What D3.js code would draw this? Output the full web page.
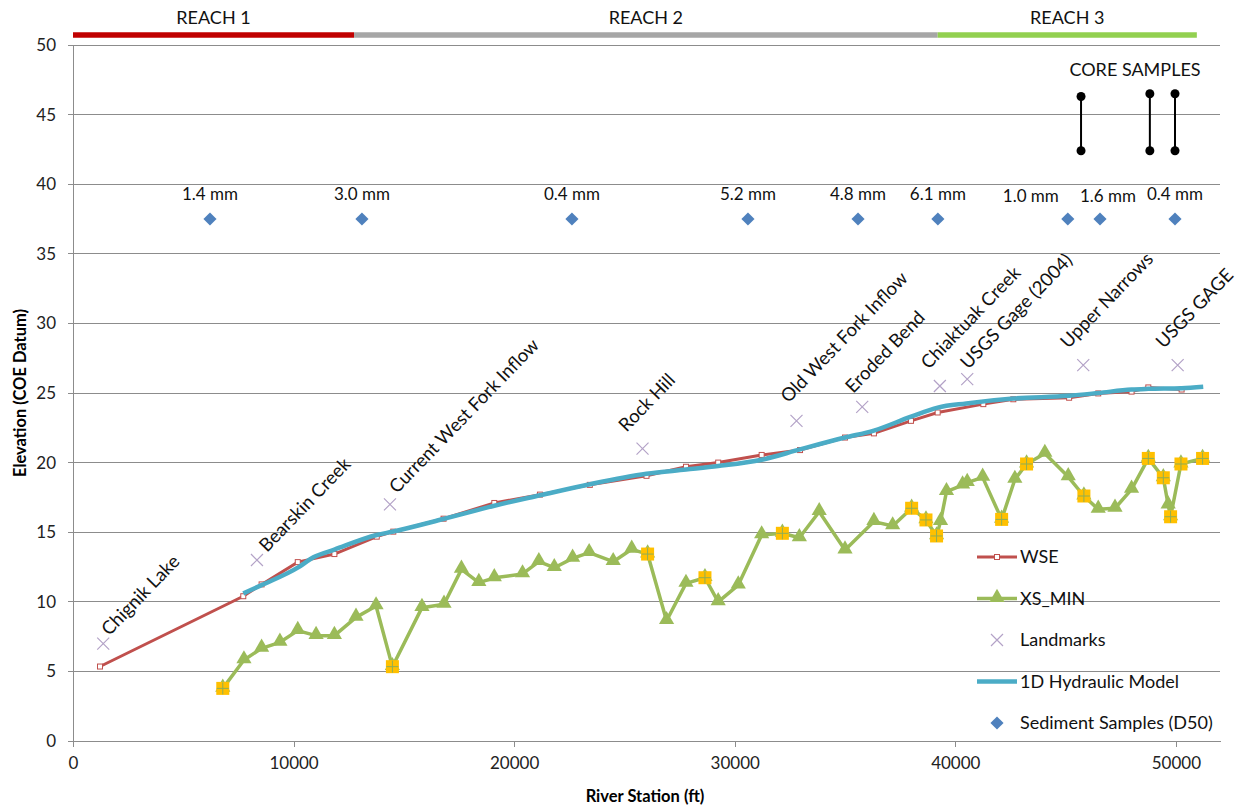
<!DOCTYPE html>
<html>
<head>
<meta charset="utf-8">
<script src="https://cdn.jsdelivr.net/npm/d3@7"></script>
<style>
  html, body { margin: 0; padding: 0; background: #fff; }
  svg { display: block; font-family: Lato, "Open Sans", sans-serif; }
</style>
</head>
<body>
<svg id="chart" width="1243" height="808"></svg>
<script>
// Axis ticks
const xTicks = [0, 10000, 20000, 30000, 40000, 50000];
const yTicks = [0, 5, 10, 15, 20, 25, 30, 35, 40, 45, 50];

// Water surface elevation (WSE)
const wseStation = [1224, 7720, 8550, 10190, 11850, 13770, 14520, 16800, 19100, 21170, 23430, 26000, 27790, 29250, 31220, 32960, 35000, 36310, 37990, 39200, 41270, 42630, 45160, 46480, 47990, 48750, 50260];
const wseElev    = [5.35, 10.4, 11.25, 12.85, 13.43, 14.68, 15.04, 15.97, 17.1, 17.7, 18.4, 19.05, 19.7, 20.0, 20.55, 20.9, 21.8, 22.1, 23.0, 23.6, 24.2, 24.55, 24.66, 24.97, 25.1, 25.4, 25.25];

// 1D hydraulic model water surface
const modelStation = [7720, 8550, 10190, 10900, 11850, 13770, 14520, 16800, 19100, 21170, 23430, 26000, 27790, 29250, 31220, 32960, 35000, 36310, 37990, 39200, 40500, 42630, 45160, 46480, 47990, 48750, 50260, 51240];
const modelElev    = [10.6, 11.2, 12.45, 13.2, 13.75, 14.8, 15.05, 15.95, 16.9, 17.65, 18.45, 19.2, 19.5, 19.75, 20.2, 20.95, 21.8, 22.3, 23.3, 23.95, 24.25, 24.6, 24.8, 25.0, 25.25, 25.3, 25.35, 25.45];

// Cross-section minimum bed elevation (XS_MIN)
const xsStation = [6790, 7750, 8550, 9380, 10190, 11020, 11850, 12830, 13740, 14480, 15820, 16820, 17610, 18400, 19100, 20380, 21120, 21820, 22650, 23400, 24490, 25330, 26050, 26910, 27790, 28650, 29250, 30160, 31220, 32160, 32930, 33830, 35000, 36310, 37160, 38020, 38670, 39150, 39330, 39600, 40330, 40540, 41240, 42100, 42700, 43230, 44060, 45120, 45830, 46480, 47240, 47990, 48750, 49430, 49650, 49760, 50230, 51210];
const xsElev    = [3.78, 5.82, 6.66, 7.09, 7.93, 7.57, 7.57, 8.88, 9.7, 5.34, 9.58, 9.82, 12.33, 11.38, 11.72, 12.0, 12.88, 12.45, 13.12, 13.53, 12.88, 13.77, 13.43, 8.64, 11.32, 11.73, 10.0, 11.2, 14.8, 14.92, 14.6, 16.47, 13.72, 15.76, 15.45, 16.72, 15.88, 14.73, 15.76, 17.91, 18.39, 18.56, 18.94, 15.92, 18.79, 19.9, 20.66, 18.98, 17.6, 16.64, 16.72, 18.08, 20.3, 18.91, 16.95, 16.11, 19.9, 20.3];

// Highlighted cross sections
const markStation = [6790, 14480, 26050, 28650, 32160, 38020, 38670, 39150, 42100, 43230, 45830, 48750, 49430, 49760, 50230, 51210];
const markElev    = [3.78, 5.34, 13.43, 11.73, 14.92, 16.72, 15.88, 14.73, 15.92, 19.9, 17.6, 20.3, 18.91, 16.11, 19.9, 20.3];

// Landmarks
const landmarkNames   = ["Chignik Lake", "Bearskin Creek", "Current West Fork Inflow", "Rock Hill", "Old West Fork Inflow", "Eroded Bend", "Chiaktuak Creek", "USGS Gage (2004)", "Upper Narrows", "USGS GAGE"];
const landmarkStation = [1370, 8340, 14370, 25820, 32800, 35780, 39300, 40540, 45800, 50080];
const landmarkElev    = [7, 13, 17, 21, 23, 24, 25.5, 26, 27, 27];

// Sediment samples (D50)
const sampleLabels  = ["1.4 mm", "3.0 mm", "0.4 mm", "5.2 mm", "4.8 mm", "6.1 mm", "1.0 mm", "1.6 mm", "0.4 mm"];
const sampleStation = [6210, 13100, 22620, 30600, 35590, 39210, 45100, 46560, 49960];
const sampleElev    = [37.5, 37.5, 37.5, 37.5, 37.5, 37.5, 37.5, 37.5, 37.5];

// Core samples
const coreStation = [45700, 48820, 49960];
const coreTop     = [46.3, 46.5, 46.5];
const coreBottom  = [42.4, 42.4, 42.4];

// River reaches
const reachNames = ["REACH 1", "REACH 2", "REACH 3"];
const reachStart = [0, 12740, 39200];
const reachEnd   = [12740, 39200, 50950];

const legendNames = ["WSE", "XS_MIN", "Landmarks", "1D Hydraulic Model", "Sediment Samples (D50)"];

// label placement (pixel offsets from the mark)
const landmarkLabelDx = [6, 10, 7, -16, -8, -9, -11, 1, -15, -14];
const landmarkLabelDy = [-7, -7, -10, -16, -17, -13, -16, -9, -16, -16];
const sampleLabelDx   = [0, 0, 0, 0, 0, 0, -37, 8, 0];
const sampleLabelDy   = [-19, -19, -19, -19, -19, -19, -17, -17, -19];

const C = {
  wse: "#C0504D", xs: "#9BBB59", land: "#B3A2C7", model: "#4BACC6", sed: "#4F81BD",
  mark: "#FFC000", grid: "#8c8c8c",
  reach: ["#C00000", "#A6A6A6", "#92D050"]
};

const svg = d3.select("#chart");
const x = d3.scaleLinear().domain([0, 52000]).range([73, 1220]);
const y = d3.scaleLinear().domain([0, 50]).range([741, 45]);

// gridlines
svg.append("g").selectAll("line").data(yTicks).join("line")
  .attr("x1", x(0) - 5).attr("x2", x(52000))
  .attr("y1", d => y(d)).attr("y2", d => y(d))
  .attr("stroke", C.grid).attr("stroke-width", 1).attr("shape-rendering", "crispEdges");

// y axis line
svg.append("line").attr("x1", x(0)).attr("x2", x(0)).attr("y1", y(50)).attr("y2", y(0))
  .attr("stroke", C.grid).attr("shape-rendering", "crispEdges");

// x axis
const xAxis = svg.append("g").attr("transform", `translate(0,${y(0)})`)
  .call(d3.axisBottom(x).tickValues(xTicks).tickFormat(d3.format("d")).tickSize(6).tickSizeOuter(0));
xAxis.select(".domain").attr("stroke", C.grid).attr("shape-rendering", "crispEdges");
xAxis.selectAll(".tick line").attr("stroke", C.grid).attr("shape-rendering", "crispEdges");
xAxis.selectAll(".tick text").attr("font-family", "Lato").attr("font-size", 17).attr("fill", "#222").attr("dy", "1.1em");

// y axis labels
const yAxis = svg.append("g").attr("transform", `translate(${x(0)},0)`)
  .call(d3.axisLeft(y).tickValues(yTicks).tickSize(0).tickPadding(17));
yAxis.select(".domain").remove();
yAxis.selectAll(".tick text").attr("font-family", "Lato").attr("font-size", 17).attr("fill", "#222");

// axis titles
svg.append("text").attr("x", 645).attr("y", 802).attr("text-anchor", "middle")
  .attr("font-weight", "bold").attr("font-size", 16.5).text("River Station (ft)");
svg.append("text").attr("transform", `translate(26,${y(25)}) rotate(-90)`).attr("text-anchor", "middle")
  .attr("font-weight", "bold").attr("font-size", 16.5).text("Elevation (COE Datum)");

// reach bars, drawn just above the plot frame
const reachY = y(50) - 10;
reachNames.forEach((name, i) => {
  svg.append("line").attr("x1", x(reachStart[i])).attr("x2", x(reachEnd[i]))
    .attr("y1", reachY).attr("y2", reachY)
    .attr("stroke", C.reach[i]).attr("stroke-width", 5.5);
  svg.append("text").attr("x", x((reachStart[i] + reachEnd[i]) / 2)).attr("y", 24)
    .attr("text-anchor", "middle").attr("font-size", 18).attr("fill", "#111").text(name);
});

const line = d3.line().x(d => x(d[0])).y(d => y(d[1]));

// WSE
const wse = d3.zip(wseStation, wseElev);
svg.append("path").datum(wse).attr("d", line).attr("fill", "none")
  .attr("stroke", C.wse).attr("stroke-width", 3);
svg.append("g").selectAll("rect").data(wse).join("rect")
  .attr("x", d => x(d[0]) - 2.5).attr("y", d => y(d[1]) - 2.5).attr("width", 5).attr("height", 5)
  .attr("fill", "#fff").attr("stroke", C.wse).attr("stroke-width", 1);

// 1D hydraulic model
const model = d3.zip(modelStation, modelElev);
svg.append("path").datum(model).attr("d", d3.line().x(d => x(d[0])).y(d => y(d[1])).curve(d3.curveMonotoneX))
  .attr("fill", "none").attr("stroke", C.model).attr("stroke-width", 4.5).attr("stroke-linejoin", "round");

// XS_MIN
const xs = d3.zip(xsStation, xsElev);
svg.append("path").datum(xs).attr("d", line).attr("fill", "none")
  .attr("stroke", C.xs).attr("stroke-width", 3.5).attr("stroke-linejoin", "round");
const tri = d3.symbol().type(d3.symbolTriangle).size(100);
svg.append("g").selectAll("path").data(xs).join("path")
  .attr("d", tri).attr("transform", d => `translate(${x(d[0])},${y(d[1]) - 1})`)
  .attr("fill", C.xs);

// highlighted cross sections
const marks = d3.zip(markStation, markElev);
const mg = svg.append("g").selectAll("g").data(marks).join("g")
  .attr("transform", d => `translate(${x(d[0])},${y(d[1])})`);
mg.append("rect").attr("x", -6.5).attr("y", -6.5).attr("width", 13).attr("height", 13).attr("fill", C.mark);
mg.append("path").attr("d", "M-6,0H6M0,-6V6").attr("stroke", "#8fae55").attr("stroke-width", 1);

// landmarks
const lands = landmarkNames.map((n, i) => ({ s: landmarkStation[i], e: landmarkElev[i], n, i }));
const cross = "M-6,-6L6,6M-6,6L6,-6";
svg.append("g").selectAll("path").data(lands).join("path")
  .attr("d", cross).attr("transform", d => `translate(${x(d.s)},${y(d.e)})`)
  .attr("stroke", C.land).attr("stroke-width", 1.2).attr("fill", "none");
svg.append("g").selectAll("text").data(lands).join("text")
  .attr("transform", d => `translate(${x(d.s) + landmarkLabelDx[d.i]},${y(d.e) + landmarkLabelDy[d.i]}) rotate(-46)`)
  .attr("font-size", 18.5).attr("fill", "#111").text(d => d.n);

// sediment samples
const diamond = d3.symbol().type(d3.symbolDiamond2).size(110);
svg.append("g").selectAll("path").data(d3.zip(sampleStation, sampleElev)).join("path")
  .attr("d", diamond).attr("transform", d => `translate(${x(d[0])},${y(d[1])})`).attr("fill", C.sed);
svg.append("g").selectAll("text").data(sampleLabels).join("text")
  .attr("x", (d, i) => x(sampleStation[i]) + sampleLabelDx[i])
  .attr("y", (d, i) => y(sampleElev[i]) + sampleLabelDy[i])
  .attr("text-anchor", "middle").attr("font-size", 17).attr("fill", "#111").text(d => d);

// core samples
svg.append("text").attr("x", 1135).attr("y", 76).attr("text-anchor", "middle")
  .attr("font-size", 18).attr("fill", "#111").text("CORE SAMPLES");
coreStation.forEach((s, i) => {
  svg.append("line").attr("x1", x(s)).attr("x2", x(s)).attr("y1", y(coreTop[i])).attr("y2", y(coreBottom[i]))
    .attr("stroke", "#000").attr("stroke-width", 2);
  [coreTop[i], coreBottom[i]].forEach(v => svg.append("circle").attr("cx", x(s)).attr("cy", y(v)).attr("r", 4.5).attr("fill", "#000"));
});

// legend
const lg = svg.append("g");
legendNames.forEach((name, i) => {
  const ly = 557 + i * 41.5;
  const g = lg.append("g").attr("transform", `translate(977,${ly})`);
  if (i === 0) {
    g.append("line").attr("x2", 40).attr("stroke", C.wse).attr("stroke-width", 3);
    g.append("rect").attr("x", 17.5).attr("y", -2.5).attr("width", 5).attr("height", 5).attr("fill", "#fff").attr("stroke", C.wse);
  } else if (i === 1) {
    g.append("line").attr("x2", 40).attr("stroke", C.xs).attr("stroke-width", 3.5);
    g.append("path").attr("d", tri).attr("transform", "translate(20,-1)").attr("fill", C.xs);
  } else if (i === 2) {
    g.append("path").attr("d", cross).attr("transform", "translate(20,0)").attr("stroke", C.land).attr("stroke-width", 1.2);
  } else if (i === 3) {
    g.append("line").attr("x2", 40).attr("stroke", C.model).attr("stroke-width", 4.5);
  } else {
    g.append("path").attr("d", diamond).attr("transform", "translate(20,0)").attr("fill", C.sed);
  }
  g.append("text").attr("x", 43).attr("dy", "0.35em").attr("font-size", 18).attr("fill", "#111").text(name);
});
</script>
</body>
</html>
